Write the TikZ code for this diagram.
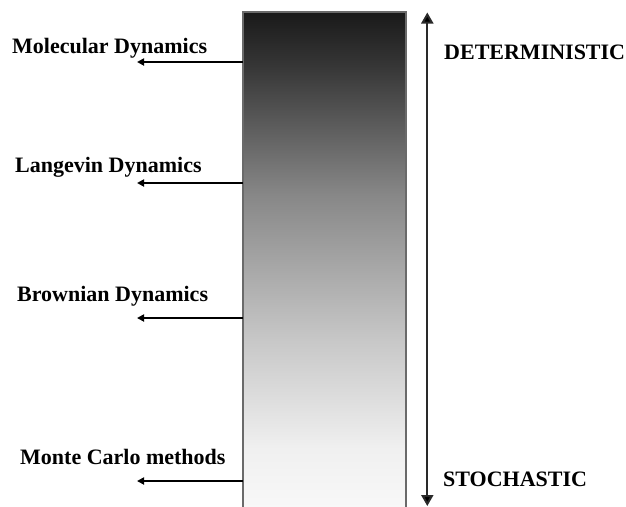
\documentclass[tikz,border=0pt]{standalone}
\usepackage{fontspec}
\setmainfont{Liberation Serif}
\usetikzlibrary{arrows.meta}

% vertical grey ramp for the bar: dark at the top, fading to white at the bottom
\pgfdeclareverticalshading{barramp}{100bp}{%
  color(0bp)=(black!1);
  color(25bp)=(black!1);
  color(33.7bp)=(black!6);
  color(44bp)=(black!22);
  color(57.7bp)=(black!47);
  color(70bp)=(black!79);
  color(75bp)=(black!90);
  color(100bp)=(black!90)}

\definecolor{baredge}{HTML}{6A6A6A}
\definecolor{shaft}{HTML}{2A2A2A}

\tikzset{
  lbl/.style={anchor=base west, inner sep=0pt, font=\bfseries\fontsize{22}{26}\selectfont},
  side/.style={anchor=base west, inner sep=0pt, font=\bfseries\fontsize{22}{26}\selectfont},
  pointer/.style={-{Triangle[length=7pt,width=7pt]}, line width=2pt},
  axisarrow/.style={{Triangle[length=11pt,width=12pt,fill=black]}-{Triangle[length=11pt,width=12pt,fill=black]}, line width=2pt, draw=shaft}
}

\begin{document}
\begin{tikzpicture}[x=1pt,y=-1pt]
  \useasboundingbox (0,0) rectangle (626,506);
  \fill[white] (0,0) rectangle (626,506);
  \clip (0,0) rectangle (626,506);

  % shaded bar, running off the bottom edge
  \path[shading=barramp, draw=baredge, line width=1.4pt]
    (243,12) rectangle (406,540);
  \coordinate (barw) at (243,12);

  % method labels
  \node[lbl] (md) at (12,53)  {Molecular Dynamics};
  \node[lbl] (ld) at (15,172) {Langevin Dynamics};
  \node[lbl] (bd) at (17,301) {Brownian Dynamics};
  \node[lbl] (mc) at (20,464) {Monte Carlo methods};

  % pointer tips
  \coordinate (mdtip) at (137,62);
  \coordinate (ldtip) at (137,183);
  \coordinate (bdtip) at (137,318);
  \coordinate (mctip) at (137,481);

  \draw[pointer] (barw |- mdtip) -- (mdtip);
  \draw[pointer] (barw |- ldtip) -- (ldtip);
  \draw[pointer] (barw |- bdtip) -- (bdtip);
  \draw[pointer] (barw |- mctip) -- (mctip);

  % deterministic / stochastic scale
  \coordinate (scaletop) at (427.3,12.5);
  \coordinate (scalebot) at (427.3,506);
  \draw[axisarrow] (scalebot) -- (scaletop);

  \node[side] (det) at (444,59)  {DETERMINISTIC};
  \node[side] (sto) at (443,486) {STOCHASTIC};
\end{tikzpicture}
\end{document}
